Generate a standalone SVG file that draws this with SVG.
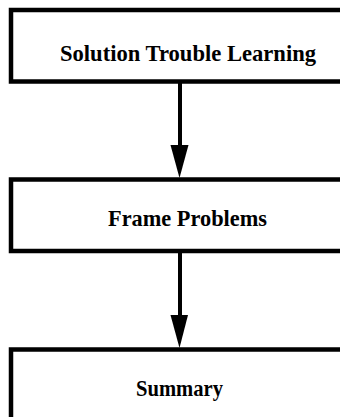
<svg xmlns="http://www.w3.org/2000/svg" width="340" height="417" viewBox="0 0 340 417">
  <style>
    .box { fill: #ffffff; stroke: #000000; stroke-width: 4.5; }
    .label { font-family: "Liberation Serif", "Times New Roman", serif; font-weight: bold; font-size: 23.5px; fill: #000000; }
    .shaft { stroke: #000000; stroke-width: 4; fill: none; }
    .head { fill: #000000; }
  </style>
  <rect width="340" height="417" fill="#ffffff"/>

  <g id="connectors">
    <line class="shaft" x1="180" y1="82" x2="180" y2="150"/>
    <polygon class="head" points="170.5,145 188.5,145 179.5,178"/>
    <line class="shaft" x1="180" y1="252" x2="180" y2="320"/>
    <polygon class="head" points="170.5,315 188,315 179.5,348"/>
  </g>

  <g id="node-solution-trouble-learning">
    <rect class="box" x="11" y="10" width="400" height="71.5"/>
    <text class="label" x="60" y="61" textLength="256" lengthAdjust="spacingAndGlyphs">Solution Trouble Learning</text>
  </g>

  <g id="node-frame-problems">
    <rect class="box" x="11" y="179.5" width="400" height="71.5"/>
    <text class="label" x="108" y="226" textLength="159" lengthAdjust="spacingAndGlyphs">Frame Problems</text>
  </g>

  <g id="node-summary">
    <rect class="box" x="11" y="349.5" width="400" height="150"/>
    <text class="label" x="136" y="396" textLength="87" lengthAdjust="spacingAndGlyphs">Summary</text>
  </g>
</svg>
